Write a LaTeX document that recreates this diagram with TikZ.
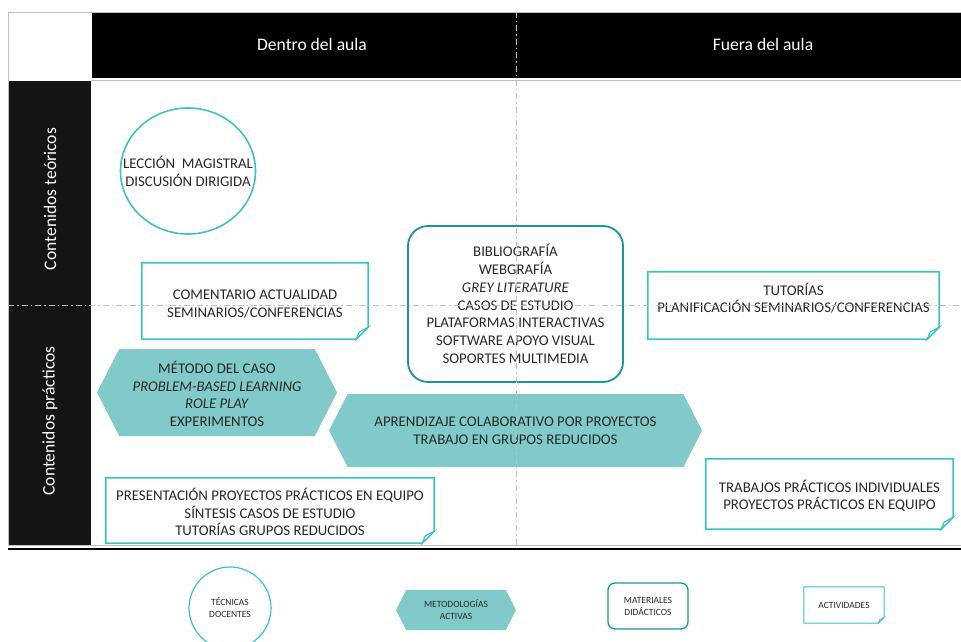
\documentclass[tikz,border=0pt]{standalone}
\usepackage{fontspec}
\setmainfont{Carlito}
\usetikzlibrary{shapes.geometric, shapes.symbols, positioning}

\definecolor{turquesa}{RGB}{62,192,196}
\definecolor{petroleo}{RGB}{24,150,152}
\definecolor{verdeagua}{RGB}{128,203,201}
\definecolor{rejilla}{RGB}{192,192,192}
\definecolor{tinta}{RGB}{40,40,40}

% caja de actividad con esquina doblada: nombre, doblez, grosor
\newcommand{\pliegue}[3]{%
  \draw[turquesa, line width=#3, line join=miter]
    (#1.north west) -- (#1.north east) -- ([yshift=#2]#1.south east)
    -- ([xshift=-#2]#1.south east) -- (#1.south west) -- cycle;
  \draw[turquesa, line width=0.6*#3, fill=turquesa!20]
    ([xshift=-#2]#1.south east) -- ([xshift=-0.75*#2, yshift=0.6*#2]#1.south east)
    -- ([yshift=#2]#1.south east) -- cycle;}
% lineas de texto desplazadas en vertical dentro de la caja
\newcommand{\lineas}[2]{\raisebox{#1}[\height][\depth]{\begin{tabular}{@{}c@{}}#2\end{tabular}}}

\begin{document}
\begin{tikzpicture}[
    x=1pt, y=-1pt,
    texto/.style={font=\fontsize{14.8}{17.8}\selectfont, text=tinta, align=center, inner sep=0pt},
    tecnica/.style={texto, ellipse, draw=turquesa, line width=1.6pt},
    material/.style={texto, rectangle, rounded corners=20pt, draw=petroleo, line width=1.8pt},
    metodo/.style={texto, signal, signal to=west and east, signal pointer angle=126, fill=verdeagua},
    actividad/.style={texto, rectangle},
    cabecera/.style={font=\fontsize{17.6}{20}\selectfont, text=white},
    leyenda/.style={font=\fontsize{9.5}{12}\selectfont},
    eje/.style={rejilla, line width=1pt, dash pattern=on 6pt off 3pt on 1.5pt off 3pt}
  ]
  \useasboundingbox (0,0) rectangle (961,642);

  % cabeceras de la tabla
  \fill[black] (92,12) rectangle (961,78);
  \fill[black!92] (8,81) rectangle (91,545);
  \draw[rejilla] (8,12) -- (961,12);
  \draw[rejilla] (8,12) -- (8,545);
  \draw[rejilla] (92,80) -- (961,80);
  \draw[rejilla] (8,545) -- (961,545);
  \draw[black, line width=2pt] (8,549) -- (961,549);

  \node[cabecera] (dentro) at (312,44) {Dentro del aula};
  \node[cabecera] (fuera) at (763,44) {Fuera del aula};
  \node[cabecera, rotate=90] (teoricos) at (50,199) {Contenidos teóricos};
  \node[cabecera, rotate=90] (practicos) at (50,421) {Contenidos prácticos};

  % tecnicas docentes
  \node[tecnica, inner xsep=-18pt, minimum width=135pt, minimum height=126pt] (leccion) at (188,171)
    {LECCIÓN\ \ MAGISTRAL\\DISCUSIÓN DIRIGIDA};

  % materiales didacticos
  \node[material, minimum width=215pt, minimum height=156pt] (biblio) at (515.5,304)
    {BIBLIOGRAFÍA\\WEBGRAFÍA\\\textit{GREY LITERATURE}\\CASOS DE ESTUDIO\\PLATAFORMAS INTERACTIVAS\\SOFTWARE APOYO VISUAL\\SOPORTES MULTIMEDIA};

  % metodologias activas
  \node[metodo, minimum width=240pt, minimum height=87pt] (caso) at (217,392.5)
    {\lineas{-4pt}{MÉTODO DEL CASO\\\textit{PROBLEM-BASED LEARNING}\\\textit{ROLE PLAY}\\EXPERIMENTOS}};
  \node[metodo, minimum width=373pt, minimum height=73pt] (colab) at (515.5,430.5)
    {APRENDIZAJE COLABORATIVO POR PROYECTOS\\TRABAJO EN GRUPOS REDUCIDOS};

  % actividades
  \node[actividad, minimum width=226pt, minimum height=76pt] (comentario) at (255,301)
    {\lineas{-4pt}{COMENTARIO ACTUALIDAD\\SEMINARIOS/CONFERENCIAS}};
  \node[actividad, minimum width=291pt, minimum height=67pt] (tutorias) at (793.5,305.5)
    {\lineas{5pt}{TUTORÍAS\\PLANIFICACIÓN SEMINARIOS/CONFERENCIAS}};
  \node[actividad, minimum width=328pt, minimum height=65pt] (presentacion) at (270,510.5)
    {\lineas{-4pt}{PRESENTACIÓN PROYECTOS PRÁCTICOS EN EQUIPO\\SÍNTESIS CASOS DE ESTUDIO\\TUTORÍAS GRUPOS REDUCIDOS}};
  \node[actividad, minimum width=247pt, minimum height=70pt] (trabajos) at (829.5,494)
    {\lineas{-3.5pt}{TRABAJOS PRÁCTICOS INDIVIDUALES\\PROYECTOS PRÁCTICOS EN EQUIPO}};
  \pliegue{comentario}{12pt}{1.8pt}
  \pliegue{tutorias}{12pt}{1.8pt}
  \pliegue{presentacion}{12pt}{1.8pt}
  \pliegue{trabajos}{12pt}{1.8pt}

  % ejes dentro/fuera y teoricos/practicos
  \draw[eje] (516,12) -- (516,545);
  \draw[eje] (8,305) -- (961,305);

  % leyenda
  \node[tecnica, leyenda, circle, minimum size=82pt, line width=1.2pt] (leyTecnica) at (230,608)
    {TÉCNICAS\\DOCENTES};
  \node[metodo, leyenda, minimum width=120pt, minimum height=40pt] (leyMetodo) at (456,610)
    {METODOLOGÍAS\\ACTIVAS};
  \node[material, leyenda, rounded corners=7pt, line width=1.3pt, minimum width=80pt, minimum height=46pt] (leyMaterial) at (648,606)
    {MATERIALES\\DIDÁCTICOS};
  \node[actividad, leyenda, minimum width=80pt, minimum height=36pt] (leyActividad) at (844,605)
    {ACTIVIDADES};
  \pliegue{leyActividad}{6pt}{1pt}
\end{tikzpicture}
\end{document}
